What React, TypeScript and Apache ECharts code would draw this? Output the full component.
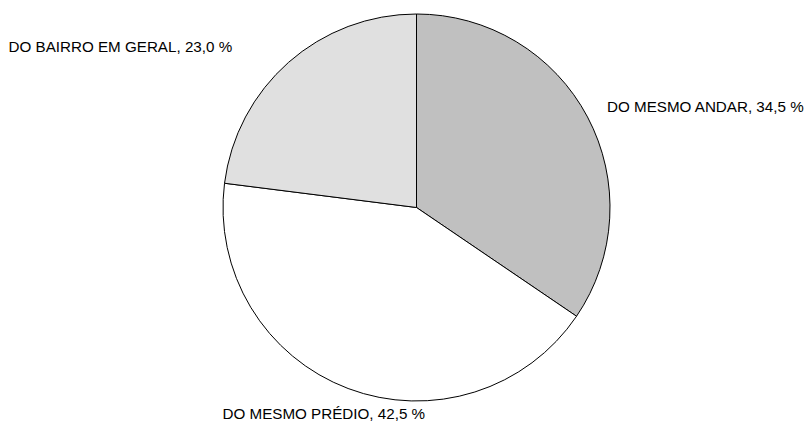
import React, { useEffect, useRef } from "react";
import * as echarts from "echarts";

// Share of neighbours by where they live
const categories = ["DO MESMO ANDAR", "DO MESMO PRÉDIO", "DO BAIRRO EM GERAL"];
const shares = [34.5, 42.5, 23.0];
const sliceColors = ["#c0c0c0", "#ffffff", "#e0e0e0"];

// Label anchor points (left edge, vertical middle) for each slice label
const labelAnchors: [number, number][] = [
  [607, 106],
  [222.5, 413.5],
  [8.5, 46.5],
];

const fmt = (v: number) => v.toFixed(1).replace(".", ",");

export default function App() {
  const ref = useRef<HTMLDivElement>(null);

  useEffect(() => {
    document.body.style.margin = "0";
    if (!ref.current) return;
    const chart = echarts.init(ref.current, undefined, { renderer: "svg" });
    chart.setOption({
      animation: false,
      backgroundColor: "#ffffff",
      series: [
        {
          type: "pie",
          center: [416.5, 207.5],
          radius: 193.5,
          startAngle: 90,
          clockwise: true,
          silent: true,
          emphasis: { disabled: true },
          itemStyle: { borderColor: "#000000", borderWidth: 1 },
          label: {
            show: true,
            position: "outside",
            overflow: "none",
            edgeDistance: 0,
            fontFamily: "Liberation Sans, Arial, sans-serif",
            fontSize: 15.2,
            color: "#000000",
            formatter: (p: any) => `${p.name}, ${fmt(p.value)} %`,
          },
          labelLine: { show: false },
          labelLayout: (p: any) => {
            const [x, y] = labelAnchors[p.dataIndex];
            return { x, y, align: "left", verticalAlign: "middle", hideOverlap: false };
          },
          data: categories.map((name, i) => ({
            name,
            value: shares[i],
            itemStyle: { color: sliceColors[i] },
          })),
        },
      ],
    });
    return () => chart.dispose();
  }, []);

  return <div ref={ref} style={{ width: 805, height: 423 }} />;
}
